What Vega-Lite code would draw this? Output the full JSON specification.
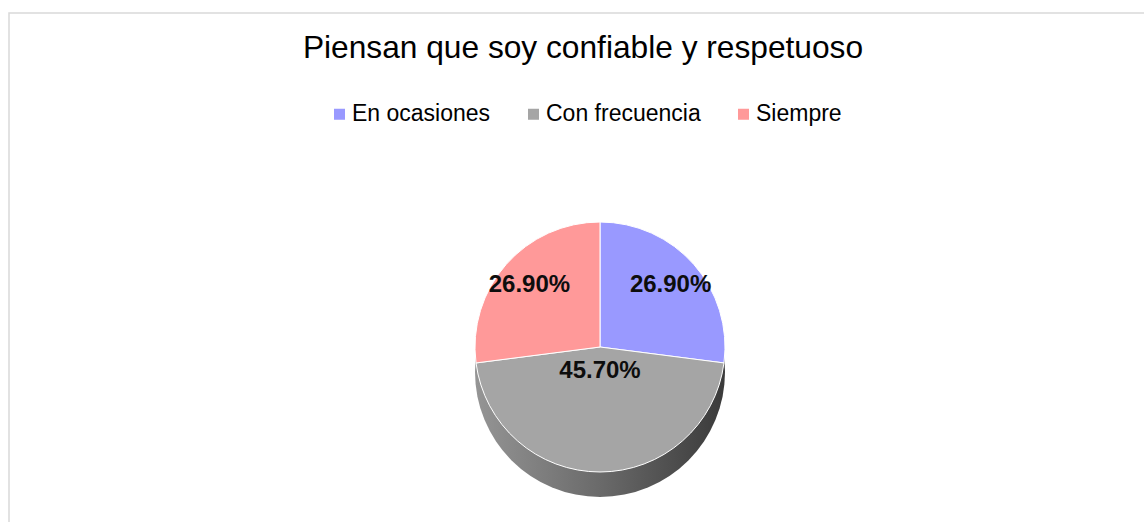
{
  "$schema": "https://vega.github.io/schema/vega-lite/v6.json",
  "width": 1137,
  "height": 511,
  "autosize": {"type": "none"},
  "padding": {"left": 9, "top": 13, "right": 0, "bottom": 0},
  "background": "white",
  "view": {"stroke": "#D9D9D9", "strokeWidth": 1.5, "fill": "white"},
  "config": {
    "view": {"stroke": "#D9D9D9", "strokeWidth": 1.5},
    "font": "Liberation Sans"
  },
  "title": {
    "text": "Piensan que soy confiable y respetuoso",
    "font": "Liberation Sans",
    "fontSize": 31.7,
    "fontWeight": "normal",
    "color": "#000000",
    "anchor": "middle",
    "frame": "group",
    "orient": "top",
    "offset": -77,
    "baseline": "alphabetic",
    "dx": 5.5
  },
  "data": {
    "values": [
      {"categoria": "En ocasiones", "valor": 0.269, "orden": 1},
      {"categoria": "Con frecuencia", "valor": 0.457, "orden": 2},
      {"categoria": "Siempre", "valor": 0.269, "orden": 3}
    ]
  },
  "layer": [
    {
      "mark": {
        "type": "arc",
        "radius": 125,
        "xOffset": 22.5,
        "yOffset": 103.5,
        "fill": {
          "gradient": "linear",
          "x1": 0, "y1": 0, "x2": 1, "y2": 0,
          "stops": [
            {"offset": 0, "color": "#959595"},
            {"offset": 0.5, "color": "#6a6a6a"},
            {"offset": 1, "color": "#3a3a3a"}
          ]
        }
      },
      "encoding": {
        "theta": {"aggregate": "sum", "field": "valor", "type": "quantitative"}
      }
    },
    {
      "mark": {
        "type": "arc",
        "radius": 125,
        "xOffset": 22.5,
        "yOffset": 78.5,
        "stroke": "white",
        "strokeWidth": 1
      },
      "encoding": {
        "theta": {"field": "valor", "type": "quantitative", "stack": true},
        "order": {"field": "orden", "type": "quantitative"},
        "color": {
          "field": "categoria",
          "type": "nominal",
          "scale": {
            "domain": ["En ocasiones", "Con frecuencia", "Siempre"],
            "range": ["#9999FF", "#A5A5A5", "#FF9999"]
          },
          "legend": {
            "title": null,
            "orient": "none",
            "legendX": 319,
            "legendY": 89.5,
            "direction": "horizontal",
            "columns": 3,
            "symbolType": "square",
            "symbolSize": 121,
            "symbolStrokeWidth": 0,
            "labelFont": "Liberation Sans",
            "labelFontSize": 23,
            "labelColor": "#000000",
            "labelOffset": 1,
            "labelLimit": 300,
            "columnPadding": 31,
            "padding": 0
          }
        }
      }
    },
    {
      "mark": {
        "type": "text",
        "radius": 94,
        "xOffset": 22.5,
        "yOffset": 78.5,
        "font": "Liberation Sans",
        "fontSize": 24,
        "fontWeight": "bold",
        "color": "#0D0D0D",
        "align": "center",
        "baseline": "middle"
      },
      "encoding": {
        "theta": {"field": "valor", "type": "quantitative", "stack": true},
        "order": {"field": "orden", "type": "quantitative"},
        "text": {
          "condition": {"test": "datum.categoria !== 'Con frecuencia'", "field": "valor", "type": "quantitative", "format": ".2%"},
          "value": ""
        }
      }
    },
    {
      "mark": {
        "type": "text",
        "radius": 24,
        "xOffset": 22.5,
        "yOffset": 78.5,
        "font": "Liberation Sans",
        "fontSize": 24,
        "fontWeight": "bold",
        "color": "#0D0D0D",
        "align": "center",
        "baseline": "middle"
      },
      "encoding": {
        "theta": {"field": "valor", "type": "quantitative", "stack": true},
        "order": {"field": "orden", "type": "quantitative"},
        "text": {
          "condition": {"test": "datum.categoria === 'Con frecuencia'", "field": "valor", "type": "quantitative", "format": ".2%"},
          "value": ""
        }
      }
    }
  ]
}
